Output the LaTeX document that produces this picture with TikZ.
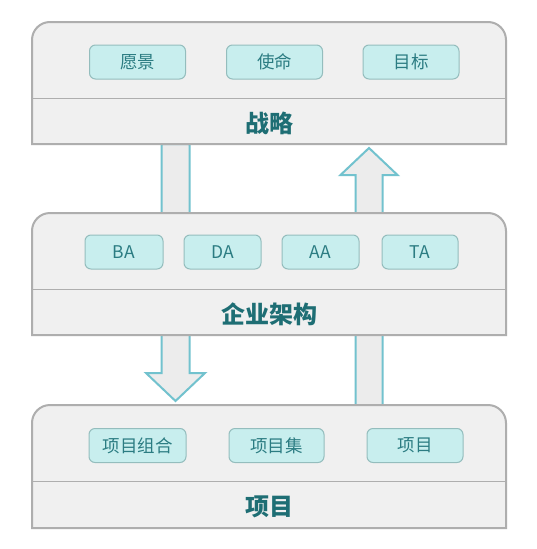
\documentclass[tikz,border=0pt]{standalone}
\usepackage{fontspec}
\setmainfont{Noto Sans CJK SC}
\definecolor{panelfill}{HTML}{F0F0F0}
\definecolor{panelline}{HTML}{AEAEAE}
\definecolor{itemfill}{HTML}{C8EEEE}
\definecolor{itemline}{HTML}{94BDBD}
\definecolor{itemtext}{HTML}{2B7C82}
\definecolor{titletext}{HTML}{1E6E74}
\definecolor{arrowline}{HTML}{72C2CE}
\definecolor{arrowfill}{HTML}{ECECEC}
\begin{document}
\begin{tikzpicture}[x=1pt,y=-1pt,
  panelbox/.style={minimum width=474pt,inner sep=0pt,outer sep=0pt},
  itembox/.style={draw=itemline,fill=itemfill,line width=1pt,rounded corners=6pt,
    minimum height=34pt,inner sep=0pt,text=itemtext,font=\fontsize{17.5}{20}\selectfont},
  titletxt/.style={text=titletext,font=\fontsize{24}{28}\selectfont\bfseries},
  blockarrow/.style={draw=arrowline,fill=arrowfill,line width=2pt,line join=miter},
  outline/.style={draw=panelline,fill=panelfill,line width=2pt},
  divider/.style={draw=panelline,line width=1pt}]
\useasboundingbox (0,0) rectangle (536,549);
\fill[white] (0,0) rectangle (536,549);
% panel anchors
\node[panelbox,minimum height=122pt] (p1) at (269,83) {};
\node[panelbox,minimum height=122pt] (p2) at (269,274) {};
\node[panelbox,minimum height=123pt] (p3) at (269,466.5) {};
% block arrows (behind panels)
\coordinate (dtop) at (175.5,144);
\coordinate (dtip) at (175.5,401);
\coordinate (utip) at (369,148);
\coordinate (ubot) at (369,405);
\draw[blockarrow] ([xshift=-14pt]dtop) -- ([xshift=-14pt,yshift=28pt]dtip) -- ([xshift=-29.5pt,yshift=28pt]dtip)
  -- (dtip) -- ([xshift=29.5pt,yshift=28pt]dtip) -- ([xshift=14pt,yshift=28pt]dtip) -- ([xshift=14pt]dtop) -- cycle;
\draw[blockarrow] ([xshift=-13.5pt]ubot) -- ([xshift=-13.5pt,yshift=-27pt]utip) -- ([xshift=-28.5pt,yshift=-27pt]utip)
  -- (utip) -- ([xshift=28.5pt,yshift=-27pt]utip) -- ([xshift=13.5pt,yshift=-27pt]utip) -- ([xshift=13.5pt]ubot) -- cycle;
% panels
\foreach \p/\d in {p1/98,p2/289,p3/481}{
  \draw[outline] (\p.south west) [rounded corners=18pt] -- (\p.north west) -- (\p.north east) [sharp corners] -- (\p.south east) -- cycle;
  \draw[divider] (\p.west |- 0,\d) -- (\p.east |- 0,\d);
}
% panel 1 items
\node[itembox,minimum width=96pt] (yj) at (137.5,62) {愿景};
\node[itembox,minimum width=96pt] (sm) at (274.5,62) {使命};
\node[itembox,minimum width=96pt] (mb) at (411,62) {目标};
\node[titletxt] (t1) at (269,123) {战略};
% panel 2 items
\node[itembox,minimum width=78pt] (ba) at (124,252) {BA};
\node[itembox,minimum width=77pt] (da) at (222.5,252) {DA};
\node[itembox,minimum width=77pt] (aa) at (320.5,252) {AA};
\node[itembox,minimum width=76pt] (ta) at (420,252) {TA};
\node[titletxt] (t2) at (269,314.5) {企业架构};
% panel 3 items
\node[itembox,minimum width=97pt] (xmzh) at (137.5,445.5) {项目组合};
\node[itembox,minimum width=95pt] (xmj) at (276.5,445.5) {项目集};
\node[itembox,minimum width=96pt] (xm) at (415,445.5) {项目};
\node[titletxt] (t3) at (269,506.5) {项目};
\end{tikzpicture}
\end{document}
